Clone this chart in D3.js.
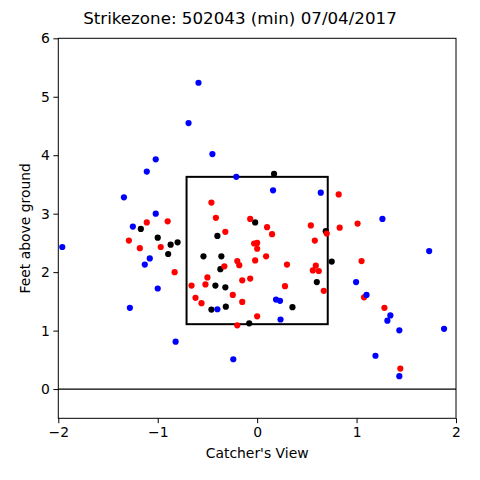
<!DOCTYPE html>
<html>
<head>
<meta charset="utf-8">
<script src="https://cdn.jsdelivr.net/npm/d3@7"></script>
<style>
  body { margin: 0; background: #fff; }
  text { font-family: "DejaVu Sans", sans-serif; fill: #000; }
</style>
</head>
<body>
<div id="chart"></div>
<script>
// pitch locations, feet (catcher's view), grouped by marker colour
const ballX = [-0.59, -0.69, -0.45, -1.02, -1.11, -0.21, -1.34, -1.02, -1.25, 0.16, 0.64, 1.26, 1.73, -1.96,
    -1.08, -1.13, -1.00, -1.28, -0.82, -0.40, 0.19, 0.23, 0.235, 0.995, 1.10, 1.34, 1.31, 1.43, 1.88, -0.24, 1.19, 1.43];
const ballY = [5.24, 4.55, 4.02, 3.93, 3.72, 3.63, 3.28, 3.00, 2.78, 3.40, 3.36, 2.91, 2.36, 2.43,
    2.235, 2.13, 1.72, 1.39, 0.81, 1.365, 1.53, 1.51, 1.19, 1.83, 1.61, 1.26, 1.17, 1.005, 1.03, 0.51, 0.57, 0.22];

const strikeX = [-0.46, -0.415, -0.07, -1.11, -0.90, -0.32, 0.10, 0.54, 0.83, 1.01, 0.82, 0.15, 0.70, 0.58,
    -0.03, 0.00, 0.00, -0.20, -0.18, -0.02, 0.09, 0.30, 0.59, 0.56, 0.62, 1.05, -0.15, -0.07, 0.28, 0.67,
    -0.245, 1.075, -0.15, 1.28, 0.00, -0.20, 1.44, -1.29, -1.18, -0.97, -0.83, -0.33, -0.50, -0.66, -0.52, -0.62, -0.56];
const strikeY = [3.19, 2.93, 2.91, 2.85, 2.87, 2.69, 2.77, 2.80, 2.76, 2.83, 3.33, 2.65, 2.66, 2.54,
    2.49, 2.50, 2.40, 2.19, 2.12, 2.20, 2.27, 2.13, 2.11, 2.03, 2.02, 2.19, 1.86, 1.89, 1.76, 1.68,
    1.61, 1.57, 1.49, 1.39, 1.245, 1.09, 0.35, 2.54, 2.41, 2.43, 2.00, 2.10, 1.91, 1.77, 1.79, 1.56, 1.47];

const inPlayX = [-0.02, -1.17, 0.17, 0.69, 0.75, 0.60, 0.355, -0.08, -0.40, -1.00, -0.87, -0.80, -0.895,
    -0.54, -0.36, -0.37, -0.42, -0.32, -0.46, -0.315];
const inPlayY = [2.85, 2.74, 3.68, 2.70, 2.18, 1.83, 1.40, 1.125, 2.62, 2.59, 2.47, 2.51, 2.31,
    2.27, 2.27, 2.05, 1.77, 1.74, 1.36, 1.41];

// strike zone edges
const zoneX = [-0.71, 0.71];
const zoneY = [1.11, 3.63];

const xTicks = [-2, -1, 0, 1, 2];
const yTicks = [0, 1, 2, 3, 4, 5, 6];

const width = 480, height = 480;
const plotLeft = 58.3, plotRight = 456, plotTop = 38.3, plotBottom = 418.3;

const svg = d3.select('#chart').append('svg')
    .attr('width', width)
    .attr('height', height);

svg.append('rect').attr('width', width).attr('height', height).attr('fill', '#fff');

const x = d3.scaleLinear().domain([-2, 2]).range([plotLeft, plotRight]);
const y = d3.scaleLinear().domain([-0.5, 6]).range([plotBottom, plotTop]);

// axes
const xAxis = svg.append('g')
    .attr('transform', 'translate(0,' + plotBottom + ')')
    .call(d3.axisBottom(x).tickValues(xTicks).tickSize(4.9).tickPadding(3.5).tickFormat(d3.format('d')));
const yAxis = svg.append('g')
    .attr('transform', 'translate(' + plotLeft + ',0)')
    .call(d3.axisLeft(y).tickValues(yTicks).tickSize(4.9).tickPadding(3.5).tickFormat(d3.format('d')));

[xAxis, yAxis].forEach(function(g) {
    g.select('.domain').remove();
    g.selectAll('.tick line').attr('stroke', '#000').attr('stroke-width', 1);
    g.selectAll('.tick text').attr('font-size', '13.9px').attr('font-family', '"DejaVu Sans", sans-serif');
});

// ground line
svg.append('line')
    .attr('x1', plotLeft).attr('x2', plotRight)
    .attr('y1', y(0)).attr('y2', y(0))
    .attr('stroke', '#000').attr('stroke-width', 1.2);

// strike zone
svg.append('rect')
    .attr('x', x(zoneX[0]))
    .attr('y', y(zoneY[1]))
    .attr('width', x(zoneX[1]) - x(zoneX[0]))
    .attr('height', y(zoneY[0]) - y(zoneY[1]))
    .attr('fill', 'none')
    .attr('stroke', '#000')
    .attr('stroke-width', 2);

// points
const groups = [
    { xs: inPlayX, ys: inPlayY, color: '#000000' },
    { xs: strikeX, ys: strikeY, color: '#ff0000' },
    { xs: ballX, ys: ballY, color: '#0000ff' }
];

groups.forEach(function(grp) {
    svg.append('g').selectAll('circle')
        .data(d3.range(grp.xs.length))
        .join('circle')
        .attr('cx', function(i) { return x(grp.xs[i]); })
        .attr('cy', function(i) { return y(grp.ys[i]); })
        .attr('r', 3.1)
        .attr('fill', grp.color);
});

// frame
svg.append('rect')
    .attr('x', plotLeft).attr('y', plotTop)
    .attr('width', plotRight - plotLeft).attr('height', plotBottom - plotTop)
    .attr('fill', 'none')
    .attr('stroke', '#000')
    .attr('stroke-width', 1);

// labels
svg.append('text')
    .attr('x', 240).attr('y', 24)
    .attr('text-anchor', 'middle')
    .attr('font-size', '16.7px')
    .text('Strikezone: 502043 (min) 07/04/2017');

svg.append('text')
    .attr('x', (plotLeft + plotRight) / 2).attr('y', 458)
    .attr('text-anchor', 'middle')
    .attr('font-size', '13.9px')
    .text("Catcher's View");

svg.append('text')
    .attr('transform', 'translate(30,' + ((plotTop + plotBottom) / 2) + ') rotate(-90)')
    .attr('text-anchor', 'middle')
    .attr('font-size', '13.9px')
    .text('Feet above ground');
</script>
</body>
</html>
